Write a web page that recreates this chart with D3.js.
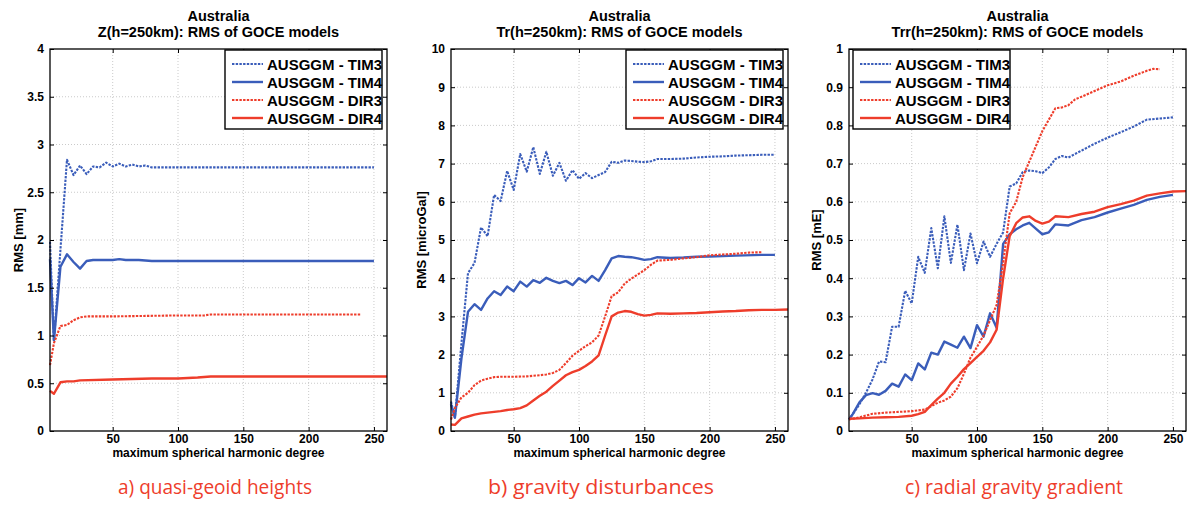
<!DOCTYPE html>
<html>
<head>
<meta charset="utf-8">
<script src="https://cdn.jsdelivr.net/npm/d3@7"></script>
<style>
  body { margin: 0; background: #fff; }
  svg { display: block; font-family: "Liberation Sans", Arial, sans-serif; }
</style>
</head>
<body>
<div id="chart"></div>
<script>
// values: [degree, RMS]
const seriesNames = ["AUSGGM - TIM3", "AUSGGM - TIM4", "AUSGGM - DIR3", "AUSGGM - DIR4"];
const xTicks = [50, 100, 150, 200, 250];

// a) quasi-geoid heights, mm
const zTim3 = [[2,1.98],[5,0.94],[10,1.9],[15,2.84],[20,2.68],[25,2.78],[30,2.69],[35,2.77],[40,2.76],[45,2.81],[50,2.77],[55,2.80],[60,2.77],[65,2.79],[70,2.77],[75,2.78],[80,2.76],[90,2.76],[100,2.76],[150,2.76],[200,2.76],[250,2.76]];
const zTim4 = [[2,1.8],[5,0.95],[10,1.72],[15,1.85],[20,1.77],[25,1.70],[30,1.78],[35,1.79],[40,1.79],[50,1.79],[55,1.80],[60,1.79],[70,1.79],[80,1.78],[100,1.78],[150,1.78],[200,1.78],[250,1.78]];
const zDir3 = [[2,0.69],[5,0.92],[10,1.10],[15,1.11],[20,1.16],[25,1.19],[30,1.20],[50,1.20],[100,1.21],[120,1.21],[125,1.22],[150,1.22],[200,1.22],[240,1.22]];
const zDir4 = [[2,0.42],[5,0.39],[10,0.51],[15,0.52],[20,0.52],[25,0.53],[50,0.54],[80,0.55],[100,0.55],[115,0.56],[125,0.57],[150,0.57],[200,0.57],[260,0.57]];

// b) gravity disturbances, microGal
const trTim3 = [[2,0.77],[5,0.35],[10,2.3],[15,4.13],[20,4.4],[25,5.33],[30,5.1],[35,6.18],[40,6.02],[45,6.81],[50,6.31],[55,7.25],[60,6.79],[65,7.43],[70,6.73],[75,7.31],[80,6.68],[85,7.02],[90,6.55],[95,6.83],[100,6.6],[105,6.75],[110,6.62],[115,6.7],[120,6.78],[125,7.05],[130,7.02],[135,7.08],[140,7.07],[145,7.05],[150,7.04],[155,7.06],[160,7.12],[170,7.12],[180,7.13],[190,7.16],[200,7.18],[210,7.19],[220,7.21],[230,7.22],[240,7.23],[250,7.23]];
const trTim4 = [[2,0.7],[5,0.35],[10,1.9],[15,3.12],[20,3.32],[25,3.17],[30,3.47],[35,3.66],[40,3.56],[45,3.78],[50,3.66],[55,3.91],[60,3.78],[65,3.95],[70,3.88],[75,4.01],[80,3.93],[85,3.87],[90,3.93],[95,3.82],[100,4.0],[105,3.89],[110,4.06],[115,3.93],[120,4.21],[125,4.52],[130,4.58],[135,4.56],[140,4.55],[145,4.52],[150,4.48],[155,4.5],[160,4.55],[170,4.53],[180,4.54],[190,4.56],[200,4.57],[220,4.59],[240,4.61],[250,4.61]];
const trDir3 = [[2,0.3],[5,0.6],[10,0.88],[15,1.0],[20,1.2],[25,1.32],[30,1.37],[35,1.41],[40,1.42],[50,1.42],[60,1.43],[70,1.46],[75,1.48],[80,1.52],[85,1.6],[90,1.78],[95,1.97],[100,2.1],[105,2.22],[110,2.32],[115,2.5],[120,3.0],[125,3.53],[130,3.63],[135,3.86],[140,3.99],[145,4.1],[150,4.21],[155,4.35],[160,4.46],[170,4.48],[180,4.52],[190,4.55],[200,4.6],[210,4.62],[220,4.64],[230,4.67],[240,4.68]];
const trDir4 = [[2,0.17],[5,0.16],[10,0.33],[15,0.38],[20,0.43],[25,0.46],[30,0.48],[35,0.5],[40,0.52],[45,0.55],[50,0.57],[55,0.6],[60,0.67],[65,0.8],[70,0.92],[75,1.03],[80,1.18],[85,1.32],[90,1.46],[95,1.54],[100,1.6],[105,1.7],[110,1.82],[115,1.98],[120,2.5],[125,3.0],[130,3.1],[135,3.14],[140,3.12],[145,3.06],[150,3.02],[155,3.04],[160,3.08],[170,3.07],[180,3.08],[190,3.09],[200,3.11],[210,3.13],[220,3.14],[230,3.16],[240,3.17],[250,3.17],[260,3.18]];

// c) radial gravity gradient, mE
const trrTim3 = [[2,0.03],[5,0.045],[10,0.07],[15,0.1],[20,0.135],[25,0.182],[30,0.18],[35,0.273],[40,0.273],[45,0.367],[50,0.334],[55,0.456],[60,0.414],[65,0.531],[70,0.426],[75,0.562],[80,0.44],[85,0.54],[90,0.421],[95,0.517],[100,0.439],[105,0.496],[110,0.456],[115,0.49],[120,0.52],[125,0.64],[130,0.648],[135,0.678],[140,0.682],[145,0.68],[150,0.675],[155,0.69],[160,0.712],[165,0.72],[170,0.716],[180,0.734],[190,0.752],[200,0.768],[210,0.782],[220,0.797],[230,0.815],[240,0.818],[250,0.821]];
const trrTim4 = [[2,0.03],[5,0.045],[10,0.075],[15,0.094],[20,0.099],[25,0.095],[30,0.105],[35,0.124],[40,0.116],[45,0.148],[50,0.133],[55,0.177],[60,0.161],[65,0.205],[70,0.2],[75,0.234],[80,0.226],[85,0.218],[90,0.247],[95,0.217],[100,0.277],[105,0.247],[110,0.308],[115,0.27],[120,0.49],[125,0.515],[130,0.528],[135,0.538],[140,0.545],[145,0.53],[150,0.515],[155,0.52],[160,0.541],[170,0.538],[180,0.552],[190,0.56],[200,0.572],[210,0.582],[220,0.592],[230,0.605],[240,0.613],[250,0.618]];
const trrDir3 = [[2,0.03],[10,0.036],[20,0.045],[30,0.048],[40,0.05],[50,0.052],[60,0.056],[65,0.065],[70,0.074],[75,0.08],[80,0.09],[85,0.112],[90,0.15],[95,0.192],[100,0.22],[105,0.25],[110,0.29],[115,0.33],[120,0.44],[125,0.57],[130,0.6],[135,0.665],[140,0.705],[145,0.745],[150,0.785],[155,0.815],[160,0.845],[165,0.847],[170,0.853],[175,0.868],[180,0.875],[190,0.89],[200,0.905],[210,0.915],[220,0.93],[230,0.943],[235,0.948],[240,0.947]];
const trrDir4 = [[2,0.032],[10,0.033],[20,0.035],[30,0.036],[40,0.037],[50,0.04],[55,0.044],[60,0.05],[65,0.068],[70,0.085],[75,0.1],[80,0.124],[85,0.142],[90,0.162],[95,0.178],[100,0.194],[105,0.21],[110,0.232],[115,0.265],[120,0.4],[125,0.51],[130,0.544],[135,0.559],[140,0.562],[145,0.55],[150,0.543],[155,0.548],[160,0.562],[170,0.56],[180,0.568],[190,0.574],[200,0.586],[210,0.594],[220,0.603],[230,0.616],[240,0.622],[250,0.627],[260,0.628]];

const blue = "#3a5dba";
const red = "#ee3d2b";
const styles = [
    { color: blue, dash: "2.4,1.3", width: 2.1 },
    { color: blue, dash: null, width: 2.4 },
    { color: red, dash: "2.4,1.3", width: 2.1 },
    { color: red, dash: null, width: 2.4 }
];

const W = 1188, H = 506;
const plotTop = 49, plotBottom = 431, plotW = 337;

const svg = d3.select("#chart").append("svg")
    .attr("width", W)
    .attr("height", H);

svg.append("rect").attr("width", W).attr("height", H).attr("fill", "#fff");

const panels = [
    { left: 50, yMax: 4, yTicks: [0,0.5,1,1.5,2,2.5,3,3.5,4], title: "Z(h=250km): RMS of GOCE models",
      ylab: "RMS [mm]", ylabX: 18, caption: "a) quasi-geoid heights", capX: 215, capW: 194,
      series: [zTim3, zTim4, zDir3, zDir4], legendX: 225 },
    { left: 451, yMax: 10, yTicks: [0,1,2,3,4,5,6,7,8,9,10], title: "Tr(h=250km): RMS of GOCE models",
      ylab: "RMS [microGal]", ylabX: 421, caption: "b) gravity disturbances", capX: 601, capW: 226,
      series: [trTim3, trTim4, trDir3, trDir4], legendX: 626 },
    { left: 849, yMax: 1, yTicks: [0,0.1,0.2,0.3,0.4,0.5,0.6,0.7,0.8,0.9,1], title: "Trr(h=250km): RMS of GOCE models",
      ylab: "RMS [mE]", ylabX: 816, caption: "c) radial gravity gradient", capX: 1014, capW: 218,
      series: [trrTim3, trrTim4, trrDir3, trrDir4], legendX: 853 }
];

panels.forEach(p => {
    const x = d3.scaleLinear().domain([2, 260]).range([p.left, p.left + plotW]);
    const y = d3.scaleLinear().domain([0, p.yMax]).range([plotBottom, plotTop]);
    const g = svg.append("g");
    const cx = p.left + plotW / 2;

    // grid
    g.selectAll(".gx").data(xTicks).enter().append("line")
        .attr("x1", d => x(d)).attr("x2", d => x(d))
        .attr("y1", plotTop).attr("y2", plotBottom)
        .attr("stroke", "#bdbdbd").attr("stroke-width", 0.8).attr("stroke-dasharray", "1,2");
    g.selectAll(".gy").data(p.yTicks.slice(1, -1)).enter().append("line")
        .attr("x1", p.left).attr("x2", p.left + plotW)
        .attr("y1", d => y(d)).attr("y2", d => y(d))
        .attr("stroke", "#bdbdbd").attr("stroke-width", 0.8).attr("stroke-dasharray", "1,2");

    // curves
    const line = d3.line().x(d => x(d[0])).y(d => y(d[1]));
    p.series.forEach((s, i) => {
        g.append("path")
            .attr("d", line(s))
            .attr("fill", "none")
            .attr("stroke", styles[i].color)
            .attr("stroke-width", styles[i].width)
            .attr("stroke-dasharray", styles[i].dash)
            .attr("stroke-linejoin", "round");
    });

    // axes: inward ticks on all four sides
    const tickFmt = d => d3.format("")(d);
    g.append("g").attr("transform", `translate(0,${plotBottom})`)
        .call(d3.axisBottom(x).tickValues(xTicks).tickSizeInner(-4).tickSizeOuter(0).tickPadding(3));
    g.append("g").attr("transform", `translate(0,${plotTop})`)
        .call(d3.axisTop(x).tickValues(xTicks).tickSizeInner(-4).tickSizeOuter(0).tickFormat(""));
    g.append("g").attr("transform", `translate(${p.left},0)`)
        .call(d3.axisLeft(y).tickValues(p.yTicks).tickSizeInner(-4).tickSizeOuter(0).tickPadding(6).tickFormat(tickFmt));
    g.append("g").attr("transform", `translate(${p.left + plotW},0)`)
        .call(d3.axisRight(y).tickValues(p.yTicks).tickSizeInner(-4).tickSizeOuter(0).tickFormat(""));
    g.selectAll(".domain").remove();
    g.selectAll(".tick line").attr("stroke", "#000").attr("stroke-width", 1);
    g.selectAll(".tick text")
        .attr("fill", "#000")
        .style("font-size", "12px")
        .style("font-weight", "bold")
        .style("font-family", "'Liberation Sans', Arial, sans-serif");

    g.append("rect")
        .attr("x", p.left).attr("y", plotTop)
        .attr("width", plotW).attr("height", plotBottom - plotTop)
        .attr("fill", "none").attr("stroke", "#000").attr("stroke-width", 1.3);

    // titles
    g.append("text").attr("x", cx).attr("y", 21).attr("text-anchor", "middle")
        .style("font-size", "14.5px").style("font-weight", "bold").text("Australia");
    g.append("text").attr("x", cx).attr("y", 37).attr("text-anchor", "middle")
        .style("font-size", "14.5px").style("font-weight", "bold").text(p.title);

    // axis labels
    g.append("text").attr("x", cx).attr("y", 457).attr("text-anchor", "middle")
        .style("font-size", "12px").style("font-weight", "bold")
        .text("maximum spherical harmonic degree");
    g.append("text")
        .attr("transform", `translate(${p.ylabX + 5},${(plotTop + plotBottom) / 2}) rotate(-90)`)
        .attr("text-anchor", "middle")
        .style("font-size", "13px").style("font-weight", "bold")
        .text(p.ylab);

    // caption
    g.append("text").attr("x", p.capX).attr("y", 494).attr("text-anchor", "middle")
        .attr("textLength", p.capW).attr("lengthAdjust", "spacingAndGlyphs")
        .style("font-family", "'Liberation Sans Narrow', 'Arial Narrow', 'Open Sans', sans-serif")
        .style("font-size", "20px").attr("fill", red)
        .text(p.caption);

    // legend
    const lg = g.append("g").attr("transform", `translate(${p.legendX},50)`);
    lg.append("rect").attr("width", 157).attr("height", 79)
        .attr("fill", "#fff").attr("stroke", "#000").attr("stroke-width", 1.4);
    seriesNames.forEach((name, i) => {
        const ly = 14 + i * 18;
        lg.append("line").attr("x1", 7).attr("x2", 38).attr("y1", ly).attr("y2", ly)
            .attr("stroke", styles[i].color).attr("stroke-width", styles[i].width)
            .attr("stroke-dasharray", styles[i].dash);
        lg.append("text").attr("x", 42).attr("y", ly + 5.5)
            .style("font-size", "15px").style("font-weight", "bold")
            .text(name);
    });
});
</script>
</body>
</html>
